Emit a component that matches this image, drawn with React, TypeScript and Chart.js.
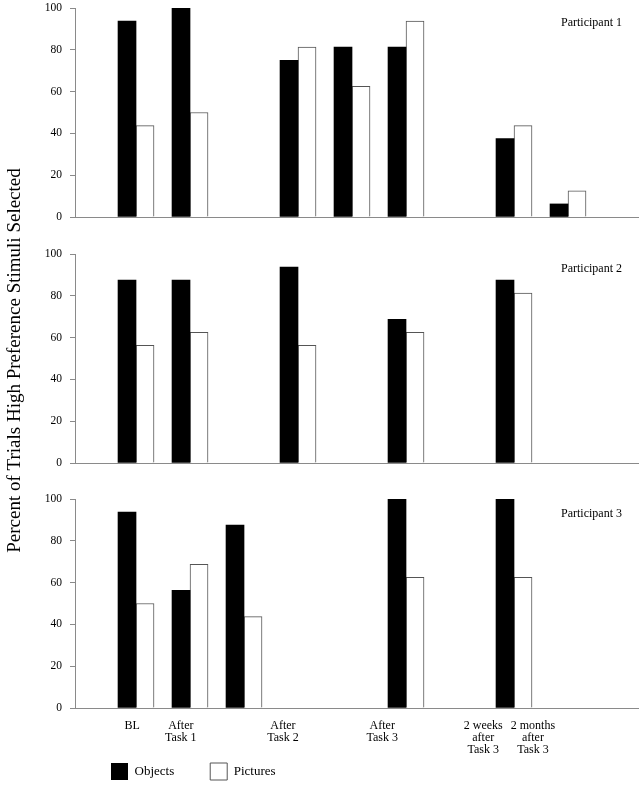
import React, { useEffect, useRef } from 'react';
import { Chart, registerables } from 'chart.js';

Chart.register(...registerables);

const SERIF = '"Liberation Serif", "Times New Roman", serif';

// ---- data ----
const slotIndex = [0, 1, 2, 3, 4, 5, 6, 7, 8];
const seriesNames = ['Objects', 'Pictures'];
const panelNames = ['Participant 1', 'Participant 2', 'Participant 3'];
const yTitle = 'Percent of Trials High Preference Stimuli Selected';
const yTicks = [0, 20, 40, 60, 80, 100];
const xTickLabels = [
  ['BL'],
  ['After', 'Task 1'],
  ['After', 'Task 2'],
  ['After', 'Task 3'],
  ['2 weeks', 'after', 'Task 3'],
  ['2 months', 'after', 'Task 3'],
];

const p1Objects = [93.75, 100, null, 75, 81.25, 81.25, null, 37.5, 6.25];
const p1Pictures = [43.75, 50, null, 81.25, 62.5, 93.75, null, 43.75, 12.5];
const p2Objects = [87.5, 87.5, null, 93.75, null, 68.75, null, 87.5, null];
const p2Pictures = [56.25, 62.5, null, 56.25, null, 62.5, null, 81.25, null];
const p3Objects = [93.75, 56.25, 87.5, null, null, 100, null, 100, null];
const p3Pictures = [50, 68.75, 43.75, null, null, 62.5, null, 62.5, null];

// ---- layout (not data) ----
const xLabelAt = [-0.07, 0.83, 2.72, 4.56, 6.43, 7.35];
const X_MIN = -1.13;
const X_MAX = 9.296;
const CANVAS_W = 643;
const CANVAS_TOP = -20;
const CANVAS_H = 830;
const AXIS = '#8a8a8a';
const panelAreas = [
  { top: 8, bottom: 217 },
  { top: 254, bottom: 463 },
  { top: 499, bottom: 708 },
];

const toPoints = (vals: (number | null)[]) =>
  vals
    .map((y, i) => (y === null ? null : { x: slotIndex[i], y }))
    .filter((p) => p !== null);

function annotate(name: string, withTitle: boolean, isBottom: boolean) {
  return {
    id: 'annot',
    afterLayout(chart: any) {
      // let the multi-line category labels draw below the (short) axis box
      if (isBottom && chart.scales.x) {
        chart.scales.x.bottom += 50;
        chart.scales.x.height += 50;
      }
    },
    afterDraw(chart: any) {
      const { ctx, chartArea } = chart;
      ctx.save();
      ctx.fillStyle = '#000';
      ctx.font = `12px ${SERIF}`;
      ctx.textAlign = 'right';
      ctx.textBaseline = 'middle';
      ctx.fillText(name, chartArea.right - 16, chartArea.top + 15);
      if (withTitle) {
        ctx.translate(15, (chartArea.top + chartArea.bottom) / 2 + 2);
        ctx.rotate(-Math.PI / 2);
        ctx.textAlign = 'center';
        ctx.font = `19px ${SERIF}`;
        ctx.fillText(yTitle, 0, 0);
      }
      ctx.restore();
    },
  };
}

function makeConfig(panel: number, objects: (number | null)[], pictures: (number | null)[]): any {
  const isBottom = panel === 2;
  const area = panelAreas[panel];
  const xHeight = isBottom ? 19 : 20;
  const legendH = isBottom ? 17 + 36 + 10 : 0;
  const top = area.top - CANVAS_TOP;
  const bottom = area.bottom - CANVAS_TOP;
  return {
    type: 'bar',
    data: {
      datasets: [
        {
          label: seriesNames[0],
          data: toPoints(objects),
          backgroundColor: '#000',
          borderColor: '#000',
          borderWidth: 0,
          barThickness: 18,
        },
        {
          label: seriesNames[1],
          data: toPoints(pictures),
          backgroundColor: '#fff',
          borderColor: '#555',
          borderWidth: 1,
          barThickness: 18,
        },
      ],
    },
    options: {
      responsive: false,
      animation: false,
      layout: {
        padding: {
          top,
          left: 0,
          right: 5,
          bottom: CANVAS_H - bottom - xHeight - legendH,
        },
      },
      scales: {
        x: {
          type: 'linear',
          offset: false,
          bounds: 'data',
          min: X_MIN,
          max: X_MAX,
          grid: { display: false, offset: false },
          border: { display: true, color: AXIS, width: 1 },
          afterBuildTicks: (s: any) => {
            s.ticks = xLabelAt.map((v) => ({ value: v }));
          },
          afterFit: (s: any) => {
            s.height = xHeight;
          },
          ticks: {
            display: isBottom,
            autoSkip: false,
            maxRotation: 0,
            minRotation: 0,
            padding: 4,
            color: '#000',
            font: { family: SERIF, size: 12, lineHeight: 1 },
            callback: (_v: any, i: number) => xTickLabels[i],
          },
        },
        y: {
          min: 0,
          max: 100,
          afterBuildTicks: (s: any) => {
            s.ticks = yTicks.map((v) => ({ value: v }));
          },
          afterFit: (s: any) => {
            s.width = 75;
          },
          grid: {
            display: true,
            drawOnChartArea: false,
            drawTicks: true,
            tickLength: 5,
            color: AXIS,
          },
          border: { display: true, color: AXIS, width: 1 },
          ticks: {
            padding: 8,
            color: '#000',
            font: { family: SERIF, size: 11.5 },
          },
        },
      },
      plugins: {
        tooltip: { enabled: false },
        legend: {
          display: isBottom,
          position: 'bottom',
          align: 'start',
          fullSize: false,
          labels: {
            boxWidth: 17,
            boxHeight: 17,
            padding: 36,
            color: '#000',
            font: { family: SERIF, size: 13 },
          },
        },
      },
    },
    plugins: [annotate(panelNames[panel], panel === 1, isBottom)],
  };
}

function Panel({ panel, objects, pictures }: { panel: number; objects: (number | null)[]; pictures: (number | null)[] }) {
  const ref = useRef<HTMLCanvasElement | null>(null);
  useEffect(() => {
    if (!ref.current) return;
    const chart = new Chart(ref.current, makeConfig(panel, objects, pictures));
    return () => chart.destroy();
  }, [panel, objects, pictures]);
  return (
    <canvas
      ref={ref}
      width={CANVAS_W}
      height={CANVAS_H}
      style={{ position: 'absolute', left: 0, top: CANVAS_TOP, width: CANVAS_W, height: CANVAS_H }}
    />
  );
}

export default function App() {
  return (
    <div
      style={{
        position: 'absolute',
        left: 0,
        top: 0,
        width: 643,
        height: 787,
        overflow: 'hidden',
        background: '#fff',
      }}
    >
      <Panel panel={0} objects={p1Objects} pictures={p1Pictures} />
      <Panel panel={1} objects={p2Objects} pictures={p2Pictures} />
      <Panel panel={2} objects={p3Objects} pictures={p3Pictures} />
    </div>
  );
}
